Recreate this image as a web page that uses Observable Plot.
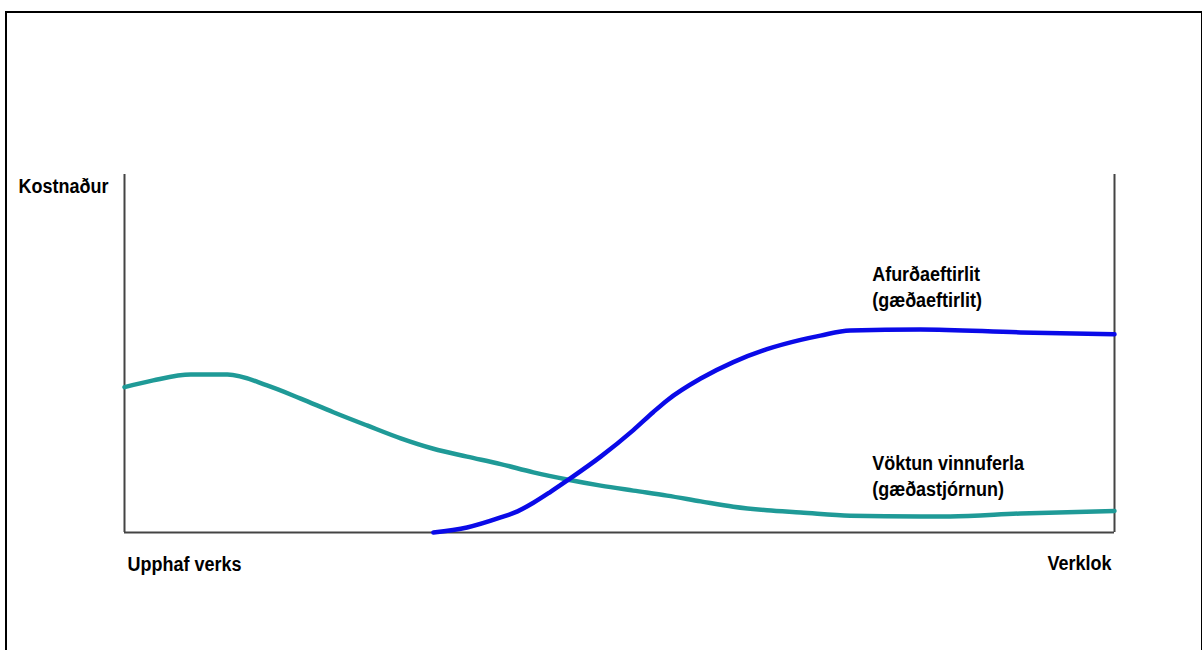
<!DOCTYPE html>
<html>
<head>
<meta charset="utf-8">
<script src="https://cdn.jsdelivr.net/npm/d3@7"></script>
<script src="https://cdn.jsdelivr.net/npm/@observablehq/plot@0.6"></script>
<style>
  html, body { margin: 0; padding: 0; background: #fff; }
  #wrap { position: relative; width: 1202px; height: 650px; overflow: hidden; }
  #border { position: absolute; left: 5px; top: 11px; width: 1194px; height: 700px;
            border: 2px solid #000; pointer-events: none; }
  #chart { position: absolute; left: 0; top: 0; }
</style>
</head>
<body>
<div id="wrap"><div id="chart"></div><div id="border"></div></div>
<script>
// Project progress (0 = start, 100 = end) and relative cost (0–100)
const tealX = [0, 2.9, 6.7, 10.4, 14.4, 17.8, 21.1, 24.5, 27.9, 31.2, 34.6, 38.0, 41.3, 44.7, 48.1, 51.4, 54.8, 58.2, 61.5, 64.9, 68.3, 73.3, 80.4, 83.4, 90.5, 100];
const tealY = [40.6, 42.5, 44.1, 44.1, 41.1, 37.4, 33.6, 29.9, 26.3, 23.4, 21.2, 19.1, 16.8, 14.8, 13.1, 11.7, 10.3, 8.7, 7.2, 6.2, 5.6, 4.7, 4.5, 4.5, 5.3, 6.0];
const blueX = [31.2, 34.6, 38.0, 39.7, 41.3, 43.0, 44.7, 48.1, 51.4, 53.4, 54.8, 58.2, 61.5, 64.9, 68.3, 70.3, 73.3, 80.4, 90.5, 100];
const blueY = [0, 1.4, 4.2, 5.9, 8.3, 11.3, 14.5, 21.2, 28.6, 33.6, 36.9, 43.0, 47.6, 51.2, 53.8, 55.0, 56.4, 56.7, 55.9, 55.4];

const yLabel = "Kostnaður";
const xTicks = [0, 100];
const xTickLabels = ["Upphaf verks", "Verklok"];
const blueLabel = "Afurðaeftirlit\n(gæðaeftirlit)";
const tealLabel = "Vöktun vinnuferla\n(gæðastjórnun)";
const labelAtX = 73.3;

const teal = tealX.map((x, i) => ({x, y: tealY[i]}));
const blue = blueX.map((x, i) => ({x, y: blueY[i]}));
const tealAnchor = teal.filter(d => d.x === labelAtX);
const blueAnchor = blue.filter(d => d.x === labelAtX);

const font = "'Liberation Sans', Arial, sans-serif";
const txt = {fontSize: 18, fontWeight: "bold", fill: "#000", fontFamily: font};

const plot = Plot.plot({
  width: 1202,
  height: 650,
  marginLeft: 124,
  marginRight: 88,
  marginTop: 174,
  marginBottom: 118,
  style: {background: "transparent", fontFamily: font},
  x: {domain: [0, 100], axis: null},
  y: {domain: [0, 100], axis: null},
  marks: [
    Plot.ruleX(xTicks, {stroke: "#444", strokeWidth: 2}),
    Plot.ruleY([0], {stroke: "#444", strokeWidth: 2}),
    Plot.line(teal, {x: "x", y: "y", stroke: "#1f9a97", strokeWidth: 4.5, curve: "monotone-x"}),
    Plot.line(blue, {x: "x", y: "y", stroke: "#0a0ae8", strokeWidth: 4.5, curve: "monotone-x"}),
    Plot.text([yLabel], {frameAnchor: "top-left", textAnchor: "start", lineAnchor: "bottom", dx: -106, dy: 18, ...txt}),
    Plot.text([xTickLabels[0]], {x: xTicks[0], frameAnchor: "bottom", textAnchor: "start", lineAnchor: "bottom", dx: 3, dy: 38, ...txt}),
    Plot.text([xTickLabels[1]], {x: xTicks[1], frameAnchor: "bottom", textAnchor: "end", lineAnchor: "bottom", dx: -3, dy: 37, ...txt}),
    Plot.text(blueAnchor, {x: "x", y: "y", text: () => blueLabel, textAnchor: "start", lineAnchor: "bottom", lineHeight: 1.26, dx: 22, dy: -24, ...txt}),
    Plot.text(tealAnchor, {x: "x", y: "y", text: () => tealLabel, textAnchor: "start", lineAnchor: "bottom", lineHeight: 1.26, dx: 22, dy: -20, ...txt})
  ]
});
// the reference lettering is slightly taller than it is wide
plot.querySelectorAll("text").forEach(t => {
  const tr = t.getAttribute("transform") || "";
  t.setAttribute("transform", tr + " scale(1,1.15)");
});
document.getElementById("chart").appendChild(plot);
</script>
</body>
</html>
